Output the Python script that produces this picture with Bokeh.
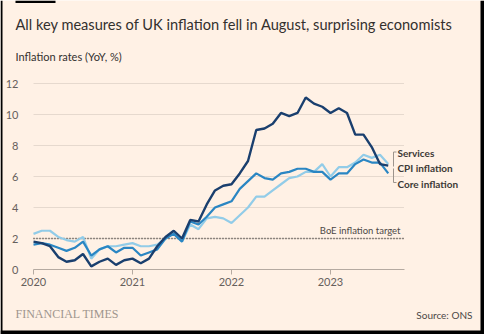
from bokeh.plotting import figure
from bokeh.models import Label, FixedTicker, ColumnDataSource, Range1d
from bokeh.embed import file_html
from bokeh.resources import INLINE

months = ["2020-01", "2020-02", "2020-03", "2020-04", "2020-05", "2020-06",
          "2020-07", "2020-08", "2020-09", "2020-10", "2020-11", "2020-12",
          "2021-01", "2021-02", "2021-03", "2021-04", "2021-05", "2021-06",
          "2021-07", "2021-08", "2021-09", "2021-10", "2021-11", "2021-12",
          "2022-01", "2022-02", "2022-03", "2022-04", "2022-05", "2022-06",
          "2022-07", "2022-08", "2022-09", "2022-10", "2022-11", "2022-12",
          "2023-01", "2023-02", "2023-03", "2023-04", "2023-05", "2023-06",
          "2023-07", "2023-08"]
cpi = [1.8, 1.7, 1.5, 0.8, 0.5, 0.6, 1.0, 0.2, 0.5, 0.7, 0.3, 0.6,
       0.7, 0.4, 0.7, 1.5, 2.1, 2.5, 2.0, 3.2, 3.1, 4.2, 5.1, 5.4,
       5.5, 6.2, 7.0, 9.0, 9.1, 9.4, 10.1, 9.9, 10.1, 11.1, 10.7, 10.5,
       10.1, 10.4, 10.1, 8.7, 8.7, 7.9, 6.8, 6.7]
core = [1.6, 1.7, 1.6, 1.4, 1.2, 1.4, 1.8, 0.9, 1.3, 1.5, 1.1, 1.4,
        1.4, 0.9, 1.1, 1.3, 2.0, 2.3, 1.8, 3.1, 2.9, 3.4, 4.0, 4.2,
        4.4, 5.2, 5.7, 6.2, 5.9, 5.8, 6.2, 6.3, 6.5, 6.5, 6.3, 6.3,
        5.8, 6.2, 6.2, 6.8, 7.1, 6.9, 6.9, 6.2]
services = [2.3, 2.5, 2.5, 2.1, 1.9, 1.8, 2.1, 0.7, 1.3, 1.5, 1.5, 1.6,
            1.7, 1.5, 1.5, 1.6, 2.0, 2.4, 1.8, 2.9, 2.6, 3.3, 3.4, 3.3,
            3.0, 3.5, 4.0, 4.7, 4.7, 5.1, 5.5, 5.9, 6.0, 6.3, 6.3, 6.8,
            6.0, 6.6, 6.6, 6.9, 7.4, 7.2, 7.4, 6.8]
series_names = ["Services", "CPI inflation", "Core inflation"]
year_ticks = [2020, 2021, 2022, 2023]
y_ticks = [0, 2, 4, 6, 8, 10, 12]
boe_target = 2.0

title_text = "All key measures of UK inflation fell in August, surprising economists"
subtitle_text = "Inflation rates (YoY, %)"
target_text = "BoE inflation target"
source_text = "Source: ONS"
brand_text = "FINANCIAL TIMES"

BG = "#fff1e5"
DARK = "#1a3f6e"
MID = "#2a86c3"
LIGHT = "#92cce8"
INK = "#33302e"
SANS = "Lato"

W, H = 484, 334
X0_PX, PX_PER_YEAR = 33.0, 99.0      # page px of 2020 and px per year
Y0_PX, PX_PER_UNIT = 269.0, 15.5     # page px of 0 % and px per point


def dx(px):
    return 2020 + (px - X0_PX) / PX_PER_YEAR


def dy(py):
    return (Y0_PX - py) / PX_PER_UNIT


X_END = dx(403.5)

xs = [int(m[:4]) + (int(m[5:]) - 1) / 12 for m in months]
src = ColumnDataSource(dict(x=xs, cpi=cpi, core=core, services=services))

p = figure(width=W, height=H, output_backend="svg", toolbar_location=None,
           title=None, x_range=Range1d(dx(0), dx(W)), y_range=Range1d(dy(H), dy(0)),
           min_border=0)
p.background_fill_color = BG
p.border_fill_color = BG
p.outline_line_color = None
p.xgrid.grid_line_color = None
p.ygrid.grid_line_color = None

# axes drawn at fixed data positions
p.xaxis.fixed_location = 0
p.xaxis.bounds = (2020, X_END)
p.xaxis.ticker = FixedTicker(ticks=year_ticks)
p.xaxis.axis_line_color = "#b5aaa1"
p.xaxis.major_tick_line_color = "#b5aaa1"
p.xaxis.major_tick_out = 5
p.xaxis.major_tick_in = 0
p.xaxis.minor_tick_line_color = None
p.xaxis.major_label_standoff = 3
p.xaxis.major_label_text_font = SANS
p.xaxis.major_label_text_font_size = "11px"
p.xaxis.major_label_text_color = "#66605c"

p.yaxis.fixed_location = 2020
p.yaxis.bounds = (0, 12)
p.yaxis.ticker = FixedTicker(ticks=y_ticks)
p.yaxis.axis_line_color = None
p.yaxis.major_tick_line_color = None
p.yaxis.minor_tick_line_color = None
p.yaxis.major_label_standoff = 9
p.yaxis.major_label_text_font = SANS
p.yaxis.major_label_text_font_size = "11px"
p.yaxis.major_label_text_color = "#66605c"

# horizontal gridlines (only over the data area)
grid_y = [t for t in y_ticks if t > 0]
p.segment(x0=[2020] * len(grid_y), x1=[X_END] * len(grid_y), y0=grid_y, y1=grid_y,
          line_color="#e6d9ce", line_width=1)

# BoE target
p.segment(x0=[2020], x1=[X_END], y0=[boe_target], y1=[boe_target],
          line_color=INK, line_dash="1 2", line_width=1.3)

p.line("x", "services", source=src, line_color=LIGHT, line_width=2.2)
p.line("x", "core", source=src, line_color=MID, line_width=2.2)
p.line("x", "cpi", source=src, line_color=DARK, line_width=2.4)

# legend brackets
p.segment(x0=[dx(393), dx(393), dx(393), dx(393)],
          y0=[dy(151.5), dy(151.5), dy(168), dy(182)],
          x1=[dx(393), dx(396), dx(393), dx(396)],
          y1=[dy(166), dy(151.5), dy(182), dy(182)],
          line_color="#9d948c", line_width=1)

ly = [dy(152.7), dy(167.7), dy(183)]
for name, yy in zip(series_names, ly):
    p.add_layout(Label(x=dx(397), y=yy, text=name, text_font=SANS, text_font_size="10px",
                       text_font_style="bold", text_color="#3d3935", text_baseline="middle"))

p.add_layout(Label(x=dx(400), y=dy(230), text=target_text, text_font=SANS,
                   text_font_size="9.5px", text_color="#4d4845", text_align="right",
                   text_baseline="middle"))

p.add_layout(Label(x=dx(15), y=dy(24), text=title_text, text_font=SANS,
                   text_font_size="14.6px", text_color=INK, text_baseline="alphabetic"))
p.add_layout(Label(x=dx(15), y=dy(55.5), text=subtitle_text, text_font=SANS,
                   text_font_size="11px", text_color=INK, text_baseline="alphabetic"))
p.add_layout(Label(x=dx(15), y=dy(313.5), text=brand_text, text_font="Liberation Serif",
                   text_font_size="12px", text_color="#9e958d", text_baseline="middle"))
p.add_layout(Label(x=dx(472), y=dy(314), text=source_text, text_font=SANS,
                   text_font_size="10px", text_color="#4d4845", text_align="right",
                   text_baseline="middle"))

# picture frame: black edges and top brand bar
p.quad(left=[dx(0), dx(480), dx(0), dx(15)],
       right=[dx(2), dx(W), dx(W), dx(55)],
       top=[dy(0), dy(0), dy(330), dy(0)],
       bottom=[dy(H), dy(H), dy(H), dy(2.5)],
       fill_color="#000000", line_color=None)

open("out.html", "w").write(file_html(p, INLINE))
